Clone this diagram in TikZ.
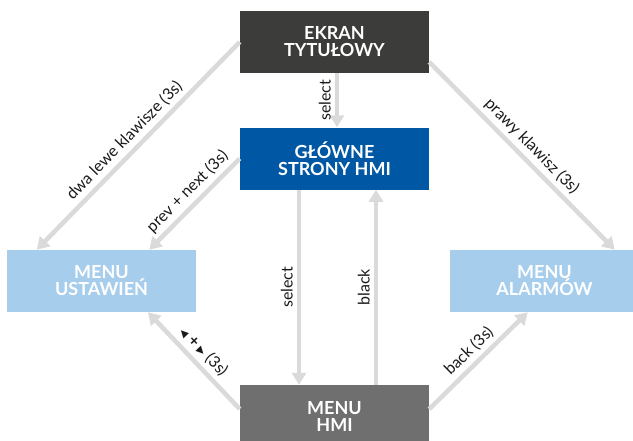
\documentclass[tikz,border=0pt]{standalone}
\usepackage{fontspec}
\setmainfont{Lato}
\newfontfamily\keyfont{DejaVu Sans}
\usepackage{xcolor}
\usepackage{tikz}
\usetikzlibrary{positioning,calc,arrows.meta}

\definecolor{titlegray}{HTML}{3C3C3B}
\definecolor{hmiblue}{HTML}{0057A4}
\definecolor{menublue}{HTML}{A7CDEC}
\definecolor{hmigray}{HTML}{6F6F6F}
\definecolor{linkgray}{HTML}{DADADA}
\definecolor{labeltext}{HTML}{1A1A1A}

\begin{document}
\begin{tikzpicture}[x=0.75pt, y=-0.75pt,
    screen/.style={rectangle, minimum width=141.75pt, minimum height=46.5pt, inner sep=0pt, align=center, text=white, font=\fontsize{13.5}{12.75}\selectfont\bfseries},
    link/.style={draw=linkgray, line width=3.4pt, -{Triangle[length=9pt, width=10.5pt]}},
    lbl/.style={text=labeltext, inner sep=3pt, font=\fontsize{12}{14}\selectfont}]
    \clip (0,0) rectangle (633,441);

    % Screens of the HMI
    \node [screen, fill=titlegray] (ekran) at (334.5,42) {EKRAN\\TYTUŁOWY};
    \node [screen, fill=hmiblue, below=40.5pt of ekran] (glowne) {GŁÓWNE\\STRONY HMI};
    \node [screen, fill=hmigray, below=146.25pt of glowne] (hmi) {MENU\\HMI};
    \node [screen, fill=menublue] (ustawienia) at (101.5,281) {MENU\\USTAWIEŃ};
    \node [screen, fill=menublue] (alarmy) at (544.5,281) {MENU\\ALARMÓW};

    % Transitions
    \draw [link] ($(ekran.south)+(2.5,0)$) -- node[lbl, rotate=90, above] {select} ($(glowne.north)+(2.5,0)$);
    \draw [link] (ekran.west) -- node[lbl, sloped, above, pos=0.52] {dwa lewe klawisze (3s)} ($(ustawienia.north west)+(30,0)$);
    \draw [link] (glowne.west) -- node[lbl, sloped, above, pos=0.47] {prev + next (3s)} ($(ustawienia.north east)+(-47,0)$);
    \draw [link] ($(ekran.east)+(0,20)$) -- node[lbl, sloped, above] {prawy klawisz (3s)} ($(alarmy.north west)+(165,0)$);
    \draw [link] ($(glowne.south)+(-35.5,0)$) -- node[lbl, rotate=90, above] {select} ($(hmi.north)+(-35.5,0)$);
    \draw [link] ($(hmi.north)+(41.5,0)$) -- node[lbl, rotate=90, above] {black} ($(glowne.south)+(41.5,0)$);
    \draw [link] ($(hmi.west)+(0,-7)$) -- node[lbl, sloped, above] {{\keyfont\fontsize{7.5}{7.5}\selectfont ◀}\ \textbf{+}\ {\keyfont\fontsize{7.5}{7.5}\selectfont ▶}\ (3s)} ($(ustawienia.south)+(46.5,0)$);
    \draw [link] ($(hmi.east)+(0,-7)$) -- node[lbl, sloped, above] {back (3s)} ($(alarmy.south west)+(78,0)$);
\end{tikzpicture}
\end{document}
